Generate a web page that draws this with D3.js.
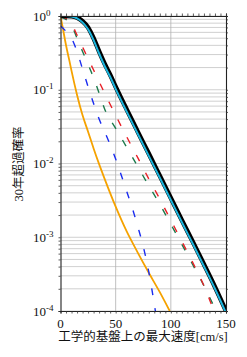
<!DOCTYPE html>
<html>
<head>
<meta charset="utf-8">
<script src="https://cdn.jsdelivr.net/npm/d3@7"></script>
<style>
  body { margin: 0; background: #fff; }
  svg { display: block; }
  text { font-family: "Liberation Serif", "Noto Sans CJK JP", serif; fill: #111; }
</style>
</head>
<body>
<div id="chart"></div>
<script>
// 横軸: 工学的基盤上の最大速度 [cm/s]
const xTickLabels = [0, 50, 100, 150];
const yDecades = [0, -1, -2, -3, -4];

// 全体 (黒太線)
const totalSpeed = [0, 5, 10, 15, 20, 25, 30, 35, 40, 45, 50, 60, 70, 80, 90, 100, 110, 120, 130, 140, 150];
const totalProb = [1, 0.999, 0.99, 0.95, 0.85, 0.7, 0.5, 0.33, 0.225, 0.16, 0.11, 0.054, 0.027, 0.0136, 0.0068, 0.0034, 0.0017, 0.00086, 0.00043, 0.000212, 0.0001];
// 水色 (黒線の内側)
const cyanProb = [1, 0.998, 0.985, 0.93, 0.82, 0.66, 0.47, 0.31, 0.21, 0.15, 0.103, 0.0505, 0.0253, 0.0127, 0.0064, 0.0032, 0.0016, 0.00081, 0.000405, 0.0002, 0.000094];

// 赤破線
const redSpeed = [0, 5, 10, 15, 20, 30, 40, 50, 60, 70, 80, 90, 100, 110, 120, 130, 139];
const redProb = [0.99, 0.93, 0.78, 0.55, 0.38, 0.185, 0.09, 0.045, 0.023, 0.012, 0.0062, 0.0033, 0.0017, 0.00088, 0.00045, 0.00022, 0.0001];

// 緑破線
const greenSpeed = [0, 5, 10, 15, 20, 25, 30, 35, 40, 50, 60, 70, 80, 90, 100, 110, 120, 130, 141];
const greenProb = [0.97, 0.9, 0.74, 0.5, 0.33, 0.22, 0.145, 0.09, 0.055, 0.030, 0.0166, 0.0091, 0.005, 0.0028, 0.0015, 0.0008, 0.00042, 0.00022, 0.0001];

// 青破線
const blueSpeed = [0, 5, 10, 15, 20, 25, 30, 35, 40, 45, 50, 55, 60, 65, 70, 75, 80, 86];
const blueProb = [0.74, 0.62, 0.5, 0.33, 0.19, 0.11, 0.065, 0.04, 0.027, 0.018, 0.0115, 0.007, 0.0042, 0.0025, 0.0014, 0.00075, 0.00034, 0.0001];

// オレンジ実線
const orangeSpeed = [0, 2, 4, 6, 8, 10, 15, 20, 25, 30, 35, 40, 50, 60, 70, 80, 90, 99];
const orangeProb = [1.0, 0.7, 0.48, 0.34, 0.25, 0.18, 0.085, 0.045, 0.027, 0.016, 0.0098, 0.0062, 0.0026, 0.0012, 0.00062, 0.00033, 0.00018, 0.0001];

const W = 247, H = 357;
const plot = { left: 60.5, right: 226, top: 16, bottom: 311 };

const svg = d3.select("#chart").append("svg")
    .attr("width", W).attr("height", H);

const x = d3.scaleLinear().domain([0, 150]).range([plot.left, plot.right]);
const y = d3.scaleLog().domain([1e-4, 1]).range([plot.bottom, plot.top]);

// 対数の補助目盛 (1..9 x 10^k)
const minorY = [];
for (let e = -4; e < 0; e++) {
    for (let m = 1; m < 10; m++) minorY.push(m * Math.pow(10, e));
}
minorY.push(1);

// グリッド
const grid = svg.append("g");
grid.selectAll("line.h").data(minorY).enter().append("line")
    .attr("x1", plot.left).attr("x2", plot.right)
    .attr("y1", d => y(d)).attr("y2", d => y(d))
    .attr("stroke", "#c4c4c4").attr("stroke-width", 0.8);
grid.selectAll("line.v").data([50, 100]).enter().append("line")
    .attr("x1", d => x(d)).attr("x2", d => x(d))
    .attr("y1", plot.top).attr("y2", plot.bottom)
    .attr("stroke", "#b0b0b0").attr("stroke-width", 0.8);

// 曲線
svg.append("clipPath").attr("id", "clip").append("rect")
    .attr("x", plot.left).attr("y", plot.top)
    .attr("width", plot.right - plot.left).attr("height", plot.bottom - plot.top);

const line = d3.line()
    .x(d => x(d[0]))
    .y(d => y(d[1]))
    .curve(d3.curveMonotoneX);

const zip = (a, b) => a.map((v, i) => [v, b[i]]);

const curves = svg.append("g").attr("clip-path", "url(#clip)");

const series = [
    { data: zip(orangeSpeed, orangeProb), color: "#f5a200", width: 1.8, dash: null },
    { data: zip(blueSpeed, blueProb), color: "#1a2cf0", width: 1.4, dash: "7,13" },
    { data: zip(greenSpeed, greenProb), color: "#1c7a4c", width: 1.4, dash: "7,13" },
    { data: zip(redSpeed, redProb), color: "#e82028", width: 1.4, dash: "7,13" },
    { data: zip(totalSpeed, totalProb), color: "#000", width: 4.6, dash: null },
    { data: zip(totalSpeed, cyanProb), color: "#1cb4dc", width: 2, dash: null }
];

curves.selectAll("path").data(series).enter().append("path")
    .attr("d", d => line(d.data))
    .attr("fill", "none")
    .attr("stroke", d => d.color)
    .attr("stroke-width", d => d.width)
    .attr("stroke-dasharray", d => d.dash);

// 軸と目盛
const axes = svg.append("g").attr("stroke", "#222");
const minorX = d3.range(0, 151, 5);

axes.append("g").attr("transform", `translate(0,${plot.bottom})`)
    .call(d3.axisBottom(x).tickValues(minorX).tickSize(2.5).tickFormat(""));
axes.append("g").attr("transform", `translate(0,${plot.top})`)
    .call(d3.axisTop(x).tickValues(minorX).tickSize(2.5).tickFormat(""));
axes.append("g").attr("transform", `translate(${plot.left},0)`)
    .call(d3.axisLeft(y).tickValues(minorY).tickSize(2).tickFormat(""));
axes.append("g").attr("transform", `translate(${plot.right},0)`)
    .call(d3.axisRight(y).tickValues(minorY).tickSize(2).tickFormat(""));

svg.selectAll(".domain").attr("stroke", "#222").attr("stroke-width", 1.1);
svg.selectAll(".tick line").attr("stroke", "#333").attr("stroke-width", 0.8);

// 横軸ラベル
svg.append("g").selectAll("text").data(xTickLabels).enter().append("text")
    .attr("x", d => x(d)).attr("y", 328)
    .attr("text-anchor", "middle")
    .attr("font-size", 13)
    .text(d => d);

// 縦軸ラベル 10^n
const yl = svg.append("g").selectAll("text").data(yDecades).enter().append("text")
    .attr("x", 33).attr("y", d => y(Math.pow(10, d)) + 4.5)
    .attr("font-size", 13);
yl.append("tspan").text("10");
yl.append("tspan").attr("dy", -5).attr("font-size", 9).text(d => d === 0 ? "0" : "-" + (-d));

// 軸タイトル
svg.append("text")
    .attr("x", 143).attr("y", 341)
    .attr("text-anchor", "middle")
    .attr("font-size", 12.5)
    .text("工学的基盤上の最大速度[cm/s]");

svg.append("text")
    .attr("transform", "translate(19,164) rotate(-90)")
    .attr("text-anchor", "middle")
    .attr("dy", "0.35em")
    .attr("font-size", 12.5)
    .text("30年超過確率");
</script>
</body>
</html>
